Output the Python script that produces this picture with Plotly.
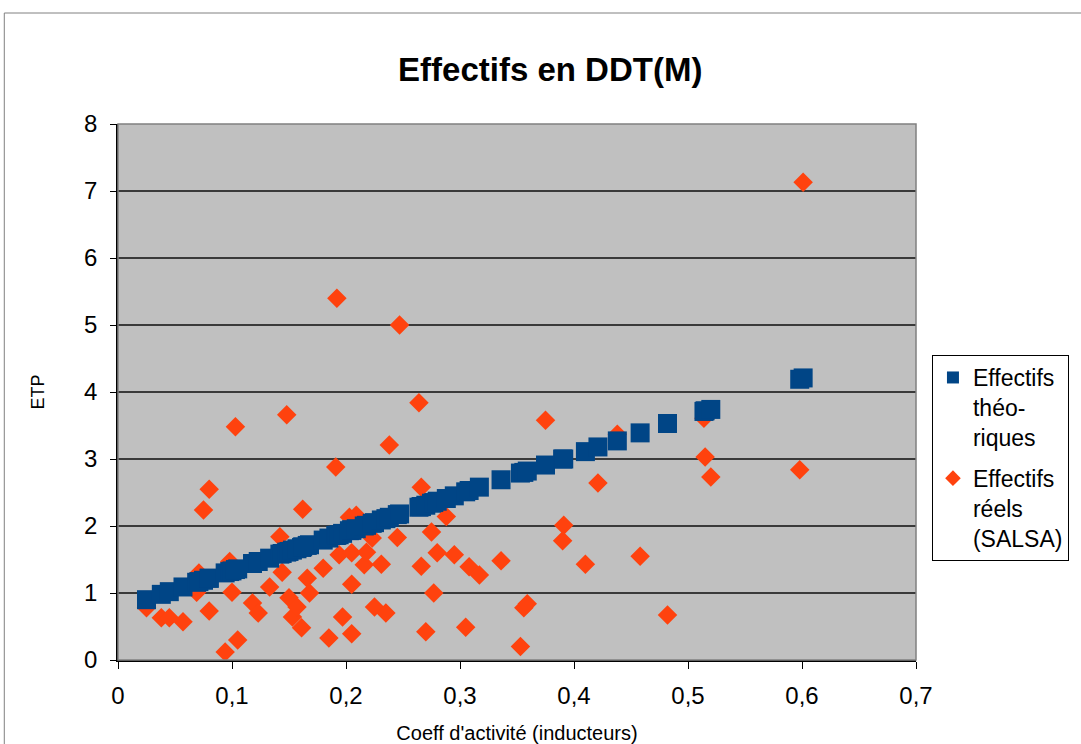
import plotly.graph_objects as go

# Coefficient d'activité (inducteurs) for each DDT(M)
coeff = [0.025, 0.038, 0.045, 0.057, 0.069, 0.071, 0.075, 0.080, 0.080, 0.094,
         0.098, 0.100, 0.103, 0.105, 0.118, 0.123, 0.133, 0.142, 0.144, 0.148,
         0.150, 0.153, 0.157, 0.161, 0.162, 0.166, 0.168, 0.180, 0.185, 0.191,
         0.192, 0.194, 0.197, 0.203, 0.205, 0.205, 0.205, 0.209, 0.216, 0.218,
         0.223, 0.225, 0.231, 0.235, 0.238, 0.245, 0.247, 0.264, 0.266, 0.266,
         0.270, 0.275, 0.277, 0.280, 0.288, 0.295, 0.305, 0.308, 0.317, 0.336,
         0.353, 0.356, 0.359, 0.375, 0.390, 0.391, 0.410, 0.421, 0.438, 0.458,
         0.482, 0.514, 0.515, 0.520, 0.598, 0.601]

# Effectifs réels (SALSA)
reels = [0.78, 0.63, 0.63, 0.57, 1.01, 1.30, 2.24, 2.55, 0.73, 0.12,
         1.47, 1.01, 3.48, 0.30, 0.85, 0.70, 1.09, 1.84, 1.31, 3.66,
         0.93, 0.64, 0.79, 0.48, 2.25, 1.22, 1.00, 1.37, 0.33, 2.88,
         5.40, 1.57, 0.64, 2.13, 1.13, 1.60, 0.39, 2.16, 1.42, 1.61,
         1.82, 0.79, 1.43, 0.70, 3.21, 1.83, 5.00, 3.84, 2.58, 1.40,
         0.42, 1.91, 1.00, 1.60, 2.14, 1.57, 0.49, 1.39, 1.27, 1.48,
         0.20, 0.78, 0.84, 3.58, 1.78, 2.01, 1.43, 2.64, 3.37, 1.55,
         0.67, 3.61, 3.03, 2.73, 2.84, 7.13]

# Effectifs théoriques
theoriques = [0.90, 0.98, 1.02, 1.09, 1.16, 1.17, 1.19, 1.22, 1.22, 1.30,
              1.32, 1.33, 1.35, 1.36, 1.44, 1.47, 1.52, 1.58, 1.59, 1.61,
              1.62, 1.64, 1.66, 1.68, 1.69, 1.71, 1.72, 1.79, 1.82, 1.86,
              1.86, 1.87, 1.89, 1.93, 1.94, 1.94, 1.94, 1.96, 2.00, 2.01,
              2.04, 2.05, 2.09, 2.11, 2.13, 2.17, 2.18, 2.28, 2.29, 2.29,
              2.31, 2.34, 2.35, 2.37, 2.41, 2.45, 2.51, 2.53, 2.58, 2.69,
              2.79, 2.80, 2.82, 2.91, 3.00, 3.00, 3.11, 3.18, 3.27, 3.39,
              3.53, 3.71, 3.72, 3.74, 4.19, 4.21]

x_ticks = [0, 0.1, 0.2, 0.3, 0.4, 0.5, 0.6, 0.7]
y_ticks = [0, 1, 2, 3, 4, 5, 6, 7, 8]

FONT = "Liberation Sans, Arial, sans-serif"

fig = go.Figure()
fig.add_trace(go.Scatter(
    x=coeff, y=reels, mode="markers",
    name="Effectifs<br>réels<br>(SALSA)", legendrank=2, legendgroup="reels",
    marker=dict(symbol="diamond", size=15, color="#FF420E", line=dict(width=0)),
))
fig.add_trace(go.Scatter(
    x=coeff, y=theoriques, mode="markers",
    name="Effectifs<br>théo-<br>riques", legendrank=1, legendgroup="theo",
    marker=dict(symbol="square", size=19, color="#004586", line=dict(width=0)),
))

fig.update_layout(
    width=1081, height=744,
    margin=dict(l=118, r=163, t=124, b=84),
    paper_bgcolor="white", plot_bgcolor="#C0C0C0",
    separators=", ",
    font=dict(family=FONT, color="black"),
    title=dict(text="<b>Effectifs en DDT(M)</b>", x=0.509, xanchor="center",
               y=0.906, yanchor="middle", font=dict(size=33, family=FONT)),
    xaxis=dict(range=[0, 0.7], tickvals=x_ticks, showgrid=False, zeroline=False,
               automargin=False,
               ticks="outside", ticklen=7, tickcolor="black", tickwidth=1,
               ticklabelstandoff=6,
               showline=True, linecolor="black", linewidth=1.5, mirror=False,
               tickfont=dict(size=24), title=dict(text="Coeff d'activité (inducteurs)",
               font=dict(size=20), standoff=20)),
    yaxis=dict(range=[0, 8], tickvals=y_ticks, showgrid=True, gridcolor="#3a3a3a",
               gridwidth=1.5, zeroline=False, automargin=False,
               ticks="outside", ticklen=6, tickcolor="black", tickwidth=1,
               ticklabelstandoff=8,
               showline=True, linecolor="black", linewidth=1.5,
               tickfont=dict(size=24), title=dict(text="ETP", font=dict(size=18),
               standoff=35)),
    legend=dict(x=1.02, y=0.569, xanchor="left", yanchor="top",
                bgcolor="white", bordercolor="black", borderwidth=1,
                font=dict(size=23, family=FONT), tracegroupgap=8,
                valign="top", itemsizing="constant"),
    showlegend=True,
)

# plot area frame (top and right edges)
fig.add_shape(type="rect", xref="paper", yref="paper", x0=0, y0=0, x1=1, y1=1,
              line=dict(color="#808080", width=1.5), fillcolor="rgba(0,0,0,0)", layer="above")
# outer chart border
fig.add_shape(type="rect", xref="paper", yref="paper",
              x0=(4 - 118) / 800, y0=(660 - 13) / 536, x1=(1090 - 118) / 800, y1=(660 - 760) / 536,
              line=dict(color="#808080", width=1), fillcolor="rgba(0,0,0,0)")

fig.write_html("out.html", config={"displayModeBar": False},
               post_script="document.body.style.margin='0px';")
